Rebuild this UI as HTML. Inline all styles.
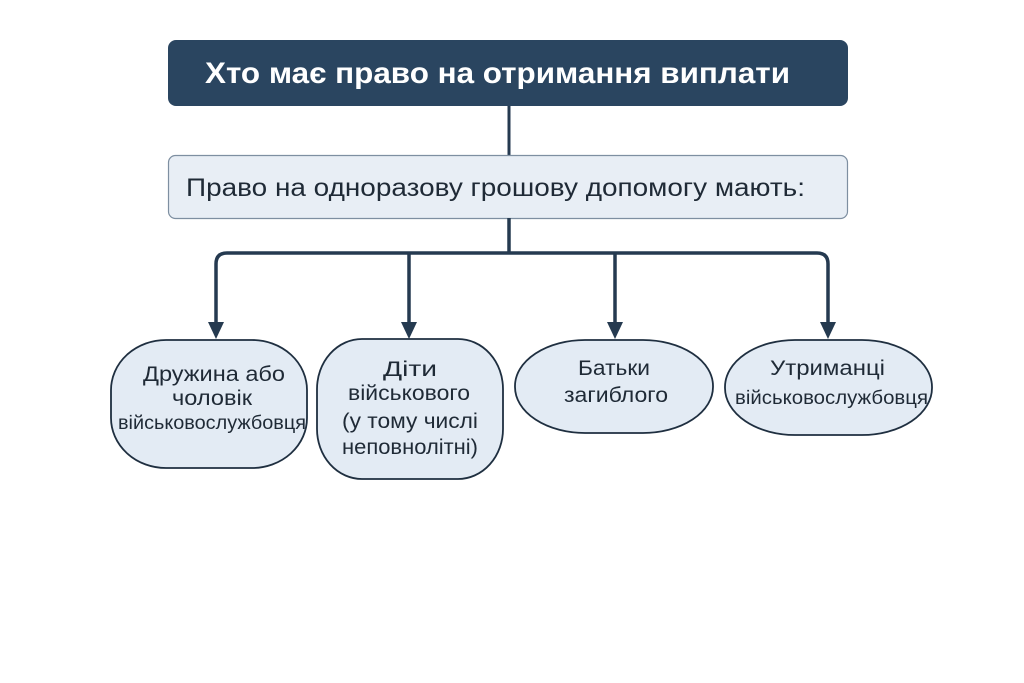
<!DOCTYPE html>
<html><head><meta charset="utf-8"><style>
html,body{margin:0;padding:0;background:#fff;}
svg{display:block;}
text{font-family:"Liberation Sans","DejaVu Sans",sans-serif;}
</style></head><body>
<svg width="1024" height="683" viewBox="0 0 1024 683" xmlns="http://www.w3.org/2000/svg">
<rect x="0" y="0" width="1024" height="683" fill="#ffffff"/>
<rect x="168" y="40" width="680" height="66" rx="8" fill="#2a4560"/>
<text x="205" y="83" font-size="30" font-weight="bold" fill="#ffffff" textLength="585" lengthAdjust="spacingAndGlyphs">Хто має право на отримання виплати</text>
<line x1="509" y1="106" x2="509" y2="155" stroke="#253a50" stroke-width="3"/>
<rect x="168.5" y="155.5" width="679" height="63" rx="7" fill="#e8eef5" stroke="#7e8fa1" stroke-width="1.2"/>
<text x="186" y="196" font-size="25" fill="#1f2a36" textLength="619" lengthAdjust="spacingAndGlyphs">Право на одноразову грошову допомогу мають:</text>
<g stroke="#253a50" stroke-width="3.5" fill="none">
<line x1="509" y1="218" x2="509" y2="253"/>
<path d="M216 330 V264 Q216 253 227 253 H817 Q828 253 828 264 V330"/>
<line x1="409" y1="253" x2="409" y2="330"/>
<line x1="615" y1="253" x2="615" y2="330"/>
</g>
<g fill="#253a50">
<path d="M208 322 L224 322 L216 339 Z"/>
<path d="M401 322 L417 322 L409 339 Z"/>
<path d="M607 322 L623 322 L615 339 Z"/>
<path d="M820 322 L836 322 L828 339 Z"/>
</g>
<g fill="#e3ebf4" stroke="#1f2f40" stroke-width="1.8">
<rect x="111" y="340" width="196" height="128" rx="55" ry="50"/>
<rect x="317" y="339" width="186" height="140" rx="45" ry="50"/>
<rect x="515" y="340" width="198" height="93" rx="70" ry="46"/>
<rect x="725" y="340" width="207" height="95" rx="70" ry="47"/>
</g>
<g fill="#1f2a36" font-size="21">
<text x="143" y="381" textLength="142" lengthAdjust="spacingAndGlyphs">Дружина або</text>
<text x="172" y="405" textLength="80" lengthAdjust="spacingAndGlyphs">чоловік</text>
<text x="118" y="429" font-size="19" textLength="188" lengthAdjust="spacingAndGlyphs">військовослужбовця</text>
<text x="383" y="376" textLength="54" lengthAdjust="spacingAndGlyphs">Діти</text>
<text x="348" y="400" textLength="122" lengthAdjust="spacingAndGlyphs">військового</text>
<text x="342" y="428" textLength="136" lengthAdjust="spacingAndGlyphs">(у тому числі</text>
<text x="342" y="454" textLength="136" lengthAdjust="spacingAndGlyphs">неповнолітні)</text>
<text x="578" y="375" textLength="72" lengthAdjust="spacingAndGlyphs">Батьки</text>
<text x="564" y="402" textLength="104" lengthAdjust="spacingAndGlyphs">загиблого</text>
<text x="770" y="375" textLength="115" lengthAdjust="spacingAndGlyphs">Утриманці</text>
<text x="735" y="404" font-size="19" textLength="193" lengthAdjust="spacingAndGlyphs">військовослужбовця</text>
</g>
</svg>
</body></html>
